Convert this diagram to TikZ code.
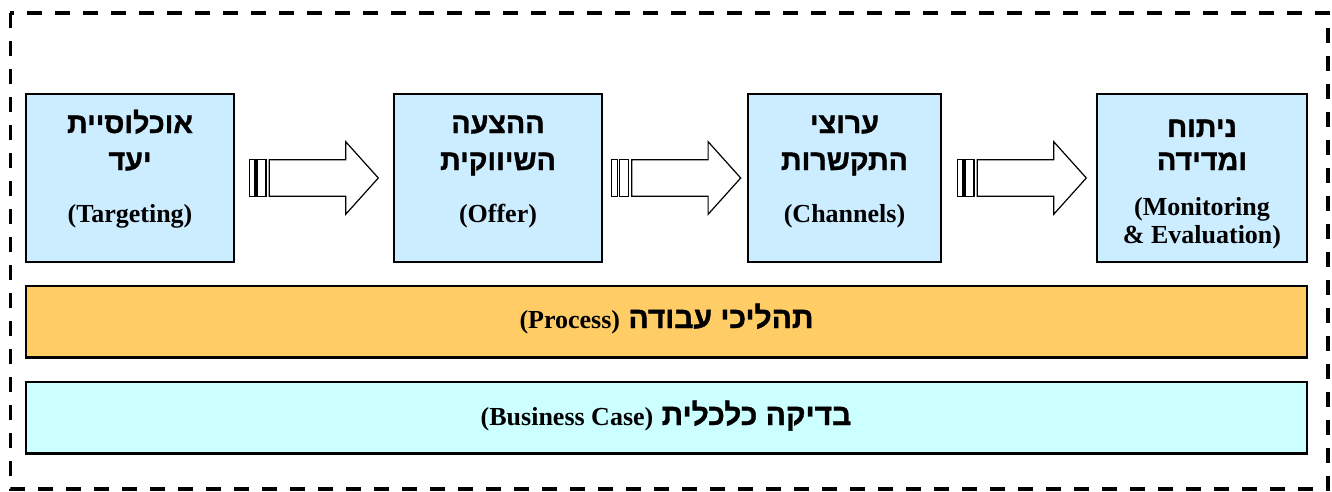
\documentclass[tikz,border=0pt]{standalone}
\usepackage{fontspec}
\setmainfont{Liberation Serif}
\newfontfamily\hebfont[Script=Hebrew, BoldFeatures={FakeBold=1.2}]{Liberation Sans}
\TeXXeTstate=1
\usetikzlibrary{calc}
\definecolor{boxblue}{HTML}{CCECFF}
\definecolor{barorange}{HTML}{FFCC66}
\definecolor{barcyan}{HTML}{CCFFFF}
\tikzset{
  stagebox/.style={draw=black, line width=1.5pt, fill=boxblue, inner sep=0pt, outer sep=0pt, minimum height=126pt},
  barbox/.style={draw=black, line width=1.6pt, inner sep=0pt, outer sep=0pt, minimum width=960.75pt, minimum height=53.6pt},
  heb/.style={anchor=base, inner sep=0pt, font=\hebfont\bfseries\fontsize{21.5}{24}\selectfont},
  eng/.style={anchor=base, inner sep=0pt, font=\bfseries\fontsize{19.5}{22}\selectfont},
  outline/.style={draw=black, line width=0.9pt, fill=white, line join=miter},
  frame/.style={draw=black, line width=2.7pt, dash pattern=on 11.5pt off 9.5pt},
  blockarrow/.pic={
    \path[outline] (0,-18.3) rectangle (5.7,18.3);
    \path[outline] (7.7,-18.3) rectangle (16.7,18.3);
    \path[outline] (20,-18.3) -- (96.4,-18.3) -- (96.4,-36.3) -- (129,0) -- (96.4,36.3) -- (96.4,18.3) -- (20,18.3) -- cycle;
  }
}
\begin{document}
\begin{tikzpicture}[x=0.75pt, y=-0.75pt]
\useasboundingbox (0,0) rectangle (1332,492);
\draw[frame] (10.3,12.8) rectangle (1328,489);
% stage boxes
\node[stagebox, minimum width=156pt] (b1) at (130,178) {};
\node[stagebox, minimum width=156pt] (b2) at (498,178) {};
\node[stagebox, minimum width=144.75pt] (b3) at (844.5,178) {};
\node[stagebox, minimum width=157.5pt] (b4) at (1202,178) {};
% arrows between boxes
\pic at ($(b1.east)+(15.3,0)$) {blockarrow};
\pic at ($(b2.east)+(9.7,0)$) {blockarrow};
\pic at ($(b3.east)+(16.3,0)$) {blockarrow};
% box texts
\node[heb] (t1a) at (130,133) {\beginR אוכלוסיית\endR};
\node[heb] (t1b) at (130,170) {\beginR יעד\endR};
\node[eng] (t1c) at (130,222) {(Targeting)};
\node[heb] (t2a) at (498,133) {\beginR ההצעה\endR};
\node[heb] (t2b) at (498,170) {\beginR השיווקית\endR};
\node[eng] (t2c) at (498,222) {(Offer)};
\node[heb] (t3a) at (844.5,133) {\beginR ערוצי\endR};
\node[heb] (t3b) at (844.5,170) {\beginR התקשרות\endR};
\node[eng] (t3c) at (844.5,222) {(Channels)};
\node[heb] (t4a) at (1202,137) {\beginR ניתוח\endR};
\node[heb] (t4b) at (1202,170) {\beginR ומדידה\endR};
\node[eng] (t4c) at (1202,215) {(Monitoring};
\node[eng] (t4d) at (1202,243) {\&~Evaluation)};
% bars
\node[barbox, fill=barorange] (process) at (666.5,321.75) {};
\node[barbox, fill=barcyan] (business) at (666.5,417.7) {};
\node[anchor=base, inner sep=0pt] (processtext) at (666.5,328) {\hebfont\bfseries\fontsize{22.5}{24}\selectfont\beginR תהליכי עבודה {\rmfamily\fontsize{19.5}{22}\selectfont\beginL(Process)\endL}\endR};
\node[anchor=base, inner sep=0pt] (businesstext) at (666,425) {\hebfont\bfseries\fontsize{22.5}{24}\selectfont\beginR בדיקה כלכלית {\rmfamily\fontsize{19.5}{22}\selectfont\beginL(Business Case)\endL}\endR};
\end{tikzpicture}
\end{document}
